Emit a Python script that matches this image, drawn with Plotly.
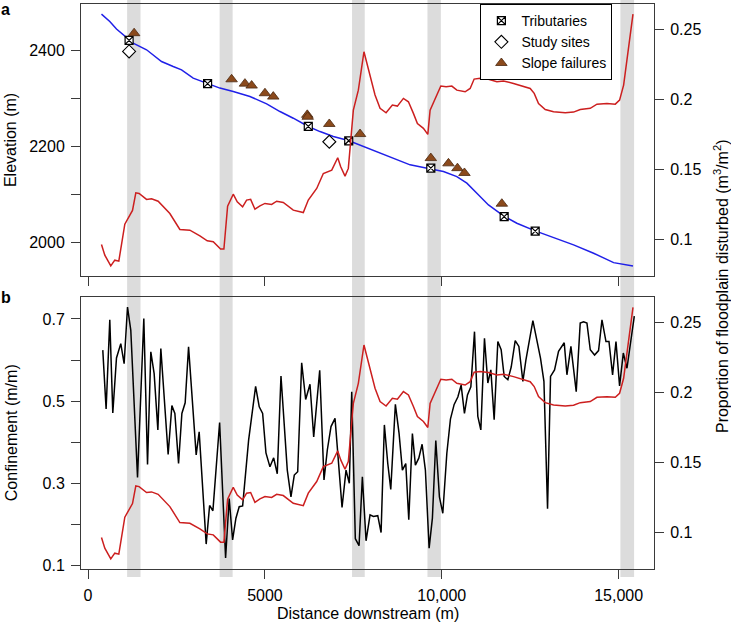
import plotly.graph_objects as go

# ---------------- data ----------------
# Elevation profile (panel a, left axis)
elev_dist = [379, 614, 803, 1039, 1274, 1653, 2077, 2406, 2643, 2972, 3396, 3727, 4104, 4576,
             5049, 5425, 5802, 6226, 6557, 6934, 7358, 7972, 8632, 9104, 9690, 10047, 10426,
             10709, 10992, 11320, 11745, 12123, 12641, 13160, 13726, 14292, 14858, 15406]
elevation = [2475.8, 2460.4, 2444.6, 2429.2, 2415.4, 2401.5, 2377.1, 2366.7, 2359.8, 2342.5,
             2330.6, 2321.7, 2314.6, 2304.2, 2289.0, 2272.9, 2259.0, 2241.7, 2231.2, 2220.8,
             2212.5, 2195.0, 2175.8, 2161.9, 2153.5, 2147.9, 2137.5, 2123.8, 2102.9, 2078.5,
             2055.6, 2040.4, 2024.4, 2011.2, 1995.2, 1977.9, 1958.3, 1951.5]

# Proportion of floodplain disturbed (right axis, both panels)
dist_disturbed = [379, 473, 642, 756, 869, 1039, 1256, 1350, 1443, 1653, 1794, 1981, 2312, 2595,
                  2878, 3161, 3369, 3539, 3746, 3840, 3945, 4104, 4217, 4369, 4482, 4596, 4718,
                  4859, 5001, 5190, 5332, 5519, 5802, 5943, 6085, 6226, 6464, 6651, 6889, 7058,
                  7143, 7265, 7358, 7500, 7641, 7800, 7924, 8113, 8255, 8425, 8603, 8745, 8915,
                  9057, 9198, 9311, 9481, 9605, 9670, 9840, 9973, 10123, 10284, 10426, 10660,
                  10802, 10915, 11085, 11320, 11558, 11745, 12028, 12311, 12500, 12613, 12735,
                  12925, 13160, 13491, 13726, 13915, 14198, 14387, 14670, 14906, 15027, 15141,
                  15236, 15330, 15406]
disturbed = [0.0962, 0.0886, 0.0809, 0.0850, 0.0843, 0.1107, 0.1205, 0.1331, 0.1326, 0.1284,
             0.1288, 0.1271, 0.1183, 0.1069, 0.1064, 0.1024, 0.0988, 0.0981, 0.0929, 0.0929,
             0.1236, 0.1321, 0.1266, 0.1231, 0.1279, 0.1284, 0.1214, 0.1238, 0.1255, 0.1248,
             0.1271, 0.1262, 0.1207, 0.1200, 0.1190, 0.1279, 0.1362, 0.1469, 0.1493, 0.1581,
             0.1517, 0.1450, 0.1505, 0.1921, 0.2064, 0.2338, 0.2219, 0.2029, 0.1934, 0.1902,
             0.1957, 0.1950, 0.2005, 0.1981, 0.1898, 0.1826, 0.1791, 0.1748, 0.1921, 0.2017,
             0.2093, 0.2088, 0.2093, 0.2064, 0.2052, 0.2076, 0.2143, 0.2148, 0.2141, 0.2124,
             0.2129, 0.2112, 0.2088, 0.2076, 0.2041, 0.1969, 0.1926, 0.1909, 0.1902, 0.1907,
             0.1926, 0.1934, 0.1964, 0.1969, 0.1964, 0.1993, 0.2100, 0.2279, 0.2469, 0.2607]

# Confinement (panel b, left axis)
dist_conf = [416, 510, 614, 699, 803, 925, 1019, 1115, 1208, 1398, 1576, 1681, 1774, 1868, 1973,
             2057, 2264, 2369, 2454, 2558, 2652, 2745, 2841, 2954, 3056, 3141, 3339, 3436, 3529,
             3719, 3888, 3990, 4086, 4180, 4273, 4370, 4539, 4737, 4839, 4935, 5029, 5142, 5247,
             5349, 5454, 5632, 5736, 5830, 5926, 6039, 6152, 6274, 6379, 6549, 6670, 6764, 6868,
             6982, 7180, 7293, 7386, 7454, 7556, 7661, 7755, 7859, 7972, 8066, 8190, 8284, 8377,
             8473, 8558, 8688, 8793, 8886, 8982, 9067, 9169, 9254, 9350, 9444, 9537, 9642, 9735,
             9831, 9933, 10029, 10143, 10245, 10350, 10454, 10547, 10641, 10726, 10822, 10925,
             11019, 11104, 11207, 11302, 11387, 11481, 11585, 11679, 11764, 11868, 11963, 12076,
             12180, 12293, 12378, 12576, 12792, 12888, 12990, 13075, 13188, 13301, 13462, 13538,
             13651, 13801, 13914, 14009, 14104, 14198, 14320, 14433, 14529, 14642, 14727, 14829,
             14925, 15027, 15132, 15236, 15443]
confinement = [0.624, 0.481, 0.698, 0.471, 0.605, 0.640, 0.591, 0.729, 0.672, 0.314, 0.701,
               0.346, 0.620, 0.567, 0.430, 0.628, 0.370, 0.489, 0.470, 0.348, 0.470, 0.496,
               0.632, 0.502, 0.369, 0.425, 0.152, 0.246, 0.233, 0.448, 0.118, 0.263, 0.162,
               0.215, 0.243, 0.245, 0.405, 0.536, 0.486, 0.470, 0.374, 0.340, 0.362, 0.323,
               0.561, 0.332, 0.267, 0.320, 0.328, 0.593, 0.504, 0.541, 0.413, 0.575, 0.308,
               0.381, 0.438, 0.458, 0.241, 0.332, 0.300, 0.523, 0.165, 0.148, 0.316, 0.160,
               0.223, 0.219, 0.221, 0.180, 0.442, 0.348, 0.285, 0.492, 0.421, 0.332, 0.348,
               0.211, 0.421, 0.344, 0.361, 0.395, 0.332, 0.142, 0.215, 0.404, 0.267, 0.227,
               0.373, 0.456, 0.492, 0.510, 0.539, 0.470, 0.515, 0.535, 0.669, 0.463, 0.430,
               0.653, 0.544, 0.576, 0.455, 0.645, 0.625, 0.560, 0.552, 0.583, 0.647, 0.633,
               0.548, 0.600, 0.696, 0.604, 0.548, 0.238, 0.560, 0.576, 0.621, 0.642, 0.564,
               0.633, 0.523, 0.690, 0.693, 0.690, 0.625, 0.612, 0.623, 0.698, 0.645, 0.645,
               0.564, 0.645, 0.537, 0.617, 0.580, 0.707]

# Point features (panel a)
trib_dist = [1160, 3379, 6226, 7369, 9690, 11764, 12641]
trib_elev = [2421, 2331, 2242, 2212, 2155, 2054, 2024]
site_dist = [1160, 6820]
site_elev = [2398, 2210]
slope_dist = [1302, 4058, 4435, 4624, 5001, 5236, 6198, 6210, 6820, 7689, 9690, 10189, 10443,
              10641, 11698]
slope_elev = [2436, 2340, 2331, 2327, 2311, 2304, 2266, 2262, 2247, 2226, 2176, 2165, 2155,
              2145, 2081]

# Grey bands (distance ranges)
band_start = [1104, 3719, 7463, 9595, 15050]
band_end = [1483, 4087, 7822, 9974, 15437]

# Ticks
x_ticks = [0, 5000, 10000, 15000]
x_ticktext = ["0", "5000", "10,000", "15,000"]
elev_ticks = [2000, 2200, 2400]
elev_minor = [2100, 2300]
conf_ticks = [0.1, 0.3, 0.5, 0.7]
conf_minor = [0.2, 0.4, 0.6]
dist_ticks = [0.1, 0.15, 0.2, 0.25]
dist_ticktext = ["0.1", "0.15", "0.2", "0.25"]

# ---------------- figure ----------------
FONT = "Liberation Sans, Arial, Helvetica, sans-serif"
AXC = "#3a3a3a"
RED = "#cc1f1f"
BLUE = "#2020e8"

fig = go.Figure()

# panel a
fig.add_trace(go.Scatter(x=dist_disturbed, y=disturbed, mode="lines", xaxis="x", yaxis="y2",
                         line=dict(color=RED, width=1.5), showlegend=False, hoverinfo="skip"))
fig.add_trace(go.Scatter(x=elev_dist, y=elevation, mode="lines", xaxis="x", yaxis="y",
                         line=dict(color=BLUE, width=1.5), showlegend=False, hoverinfo="skip"))
fig.add_trace(go.Scatter(x=trib_dist, y=trib_elev, mode="markers", xaxis="x", yaxis="y",
                         name="Tributaries",
                         marker=dict(symbol="square-x", size=8, color="white",
                                     line=dict(color="black", width=1.2))))
fig.add_trace(go.Scatter(x=site_dist, y=site_elev, mode="markers", xaxis="x", yaxis="y",
                         name="Study sites",
                         marker=dict(symbol="diamond", size=10, color="white",
                                     line=dict(color="black", width=1.1))))
fig.add_trace(go.Scatter(x=slope_dist, y=slope_elev, mode="markers", xaxis="x", yaxis="y",
                         name="Slope failures",
                         marker=dict(symbol="triangle-up", size=10, color="#8b4a1c",
                                     line=dict(color="#4a2810", width=0.8))))

# panel b
fig.add_trace(go.Scatter(x=dist_conf, y=confinement, mode="lines", xaxis="x2", yaxis="y3",
                         line=dict(color="black", width=1.5), showlegend=False, hoverinfo="skip"))
fig.add_trace(go.Scatter(x=dist_disturbed, y=disturbed, mode="lines", xaxis="x2", yaxis="y4",
                         line=dict(color=RED, width=1.5), showlegend=False, hoverinfo="skip"))

shapes = []
for s, e in zip(band_start, band_end):
    shapes.append(dict(type="rect", xref="x", yref="paper", x0=s, x1=e, y0=-0.0142, y1=1.007,
                       fillcolor="#dcdcdc", line=dict(width=0), layer="below"))

tickfont = dict(family=FONT, size=16, color="black")
common_x = dict(range=[-200, 16000], tickvals=x_ticks, ticks="outside", ticklen=9,
                tickcolor=AXC, showline=True, linecolor=AXC, linewidth=1, mirror=True,
                showgrid=False, zeroline=False, tickfont=tickfont, ticklabelstandoff=3)
common_y = dict(ticks="outside", ticklen=9, tickcolor=AXC, showline=True, linecolor=AXC,
                linewidth=1, showgrid=False, zeroline=False, tickfont=tickfont,
                ticklabelstandoff=3)
minor_style = dict(ticks="outside", ticklen=9, tickcolor=AXC, showgrid=False)

PA = [0.5186, 1.0]
PB = [0.0, 0.4809]

fig.update_layout(
    width=731, height=625,
    margin=dict(l=81, r=77, t=4, b=56),
    paper_bgcolor="white", plot_bgcolor="rgba(0,0,0,0)",
    font=dict(family=FONT, size=16, color="black"),
    xaxis=dict(domain=[0, 1], anchor="y", showticklabels=False, **common_x),
    yaxis=dict(domain=PA, anchor="x", range=[1930.5, 2496.8], tickvals=elev_ticks,
               minor=dict(tickvals=elev_minor, **minor_style), mirror=True, **common_y),
    yaxis2=dict(overlaying="y", side="right", anchor="x", range=[0.0737, 0.2679],
                tickvals=dist_ticks, ticktext=dist_ticktext, **common_y),
    xaxis2=dict(domain=[0, 1], anchor="y3", ticktext=x_ticktext, **common_x),
    yaxis3=dict(domain=PB, anchor="x2", range=[0.0913, 0.7527], tickvals=conf_ticks,
                minor=dict(tickvals=conf_minor, **minor_style), mirror=True, **common_y),
    yaxis4=dict(overlaying="y3", side="right", anchor="x2", range=[0.0737, 0.2679],
                tickvals=dist_ticks, ticktext=dist_ticktext, **common_y),
    shapes=shapes,
    legend=dict(x=0.697, y=1.0, xanchor="left", yanchor="top",
                bgcolor="white", bordercolor="black", borderwidth=1,
                font=dict(family=FONT, size=14, color="black"),
                itemwidth=30),
    showlegend=True,
)

ann_font = dict(family=FONT, size=16, color="black")
annotations = [
    dict(text="Elevation (m)", x=-0.122, y=0.7593, textangle=-90),
    dict(text="Confinement (m/m)", x=-0.122, y=0.2405, textangle=-90),
    dict(text="Proportion of floodplain disturbed (m<sup>3</sup>/m<sup>2</sup>)",
         x=1.117, y=0.5009, textangle=-90),
    dict(text="Distance downstream (m)", x=0.5, y=-0.0796),
    dict(text="<b>a</b>", x=-0.1309, y=0.9911),
    dict(text="<b>b</b>", x=-0.1309, y=0.4814),
]
for a in annotations:
    fig.add_annotation(xref="paper", yref="paper", showarrow=False, xanchor="center",
                       yanchor="middle", font=ann_font, **a)

fig.write_html("out.html", config={"displayModeBar": False},
               post_script="document.body.style.margin='0px';document.body.style.overflow='hidden';")
